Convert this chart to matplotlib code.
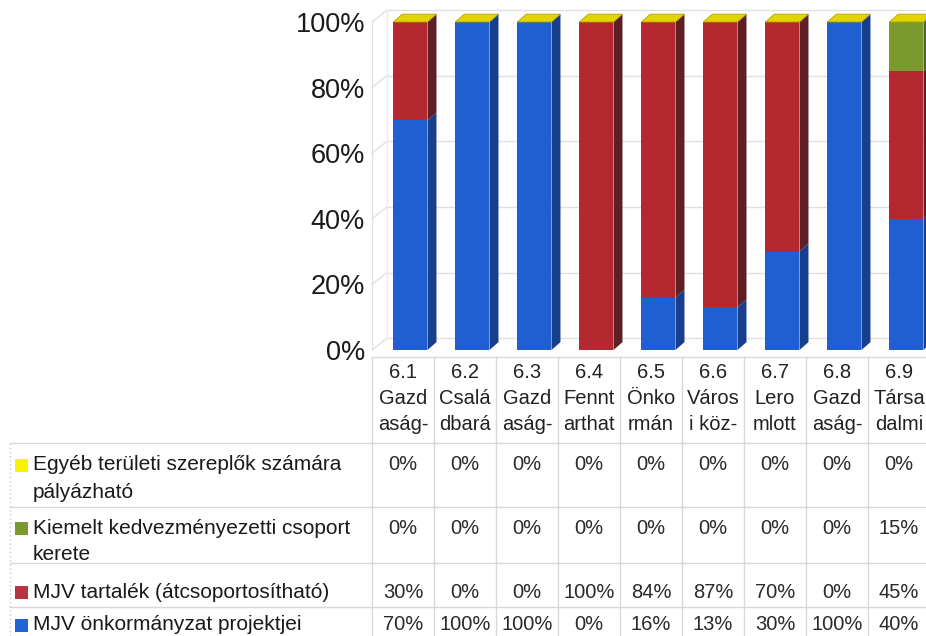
import matplotlib
matplotlib.use("Agg")
import matplotlib.pyplot as plt
import matplotlib.transforms as mtransforms
from matplotlib.patches import Polygon, Rectangle
import numpy as np

plt.rcParams['font.family'] = ['Liberation Sans', 'DejaVu Sans']

# categories (shown truncated, as in the data table header)
categories = ["6.1\nGazd\naság-", "6.2\nCsalá\ndbará", "6.3\nGazd\naság-",
              "6.4\nFennt\narthat", "6.5\nÖnko\nrmán", "6.6\nVáros\ni köz-",
              "6.7\nLero\nmlott", "6.8\nGazd\naság-", "6.9\nTársa\ndalmi"]

# series values in percent (stack order bottom -> top)
onkormanyzat = [70, 100, 100, 0, 16, 13, 30, 100, 40]
tartalek = [30, 0, 0, 100, 84, 87, 70, 0, 45]
kiemelt = [0, 0, 0, 0, 0, 0, 0, 0, 15]
egyeb = [0, 0, 0, 0, 0, 0, 0, 0, 0]

series_names = ["MJV önkormányzat projektjei", "MJV tartalék (átcsoportosítható)",
                "Kiemelt kedvezményezetti csoport\nkerete",
                "Egyéb területi szereplők számára\npályázható"]
series_values = [onkormanyzat, tartalek, kiemelt, egyeb]
front_colors = ["#1f5fd2", "#b5282f", "#7a9a30", "#f2ee00"]
side_colors = ["#173f8e", "#5e1f25", "#4f6620", "#b8a800"]
legend_colors = ["#2363d8", "#b93240", "#7a9a30", "#f8f400"]

ytick_vals = [0, 20, 40, 60, 80, 100]

W, H = 926, 636
fig = plt.figure(figsize=(W / 100, H / 100), dpi=100)
fig.patch.set_facecolor("white")

# pixel-space axes for the data table
tab = fig.add_axes([0, 0, 1, 1])
tab.set_xlim(0, W)
tab.set_ylim(H, 0)
tab.axis("off")

# bar axes: 0% at y=350px, 100% at y=22px, one category = 62px
col_px = 62
ax = fig.add_axes([372 / W, (H - 350) / H, (W - 372) / W, (350 - 22) / H])
ax.patch.set_visible(False)
x = np.arange(len(categories))
xmax = (W - 372) / col_px - 0.5
ax.set_xlim(-0.5, xmax)
ax.set_ylim(0, 100)
for s in ax.spines.values():
    s.set_visible(False)
ax.set_xticks([])
ax.set_yticks(ytick_vals)
ax.set_yticklabels([f"{v}%" for v in ytick_vals], fontsize=19.5, color="#1a1a1a")
ax.tick_params(axis="y", length=0, pad=5)

grid_col = "#e0e0e0"
# 3D walls: back wall gridlines shifted up/right
wx, wy = 0.24, 3.6
for v in ytick_vals:
    ax.plot([-0.5, -0.5 + wx], [v, v + wy], color=grid_col, lw=1, zorder=1, clip_on=False)
    ax.plot([-0.5 + wx, xmax], [v + wy, v + wy], color=grid_col, lw=1, zorder=1, clip_on=False)
ax.plot([-0.5, -0.5], [0, 100], color=grid_col, lw=1, zorder=1)
ax.plot([-0.5 + wx, -0.5 + wx], [wy, 100 + wy], color="#ececec", lw=1, zorder=1, clip_on=False)

# 3D bars
bw, off = 0.55, 0.12
dx, dy = 0.145, 2.4
bottoms = np.zeros(len(categories))
for vals, fc, sc in zip(series_values, front_colors, side_colors):
    vals = np.array(vals, dtype=float)
    ax.bar(x + off, vals, width=bw, bottom=bottoms, color=fc, zorder=3, linewidth=0)
    for i in range(len(x)):
        if vals[i] <= 0:
            continue
        x1 = x[i] + off + bw / 2
        b, t = bottoms[i], bottoms[i] + vals[i]
        ax.add_patch(Polygon([(x1, b), (x1 + dx, b + dy), (x1 + dx, t + dy), (x1, t)],
                             closed=True, facecolor=sc, edgecolor="none", zorder=3, clip_on=False))
    bottoms += vals

# top faces take the colour of the topmost series
for i in range(len(x)):
    x0 = x[i] + off - bw / 2
    x1 = x[i] + off + bw / 2
    t = bottoms[i]
    ax.add_patch(Polygon([(x0, t), (x1, t), (x1 + dx, t + dy), (x0 + dx, t + dy)],
                         closed=True, facecolor="#e2d400", edgecolor="#b0a200", lw=0.6,
                         zorder=4, clip_on=False))

# data table
bt = mtransforms.blended_transform_factory(ax.transData, tab.transData)
line_col = "#d8d8d8"
tab_fs = 14.5
tab.plot([372, W], [357, 357], color=line_col, lw=1)
for yy in [443, 507, 563, 607]:
    tab.plot([10, W], [yy, yy], color=line_col, lw=1)
tab.plot([372, 372], [357, H], color=line_col, lw=1)
tab.plot([10, 10], [443, H], color="#c8c8c8", lw=1, ls=(0, (1, 2)))
for i in range(len(x)):
    tab.plot([x[i] + 0.5, x[i] + 0.5], [357, H], color=line_col, lw=1, transform=bt)

# header: category labels
header_y = [372, 398, 425]
for i, cat in enumerate(categories):
    for yy, part in zip(header_y, cat.split("\n")):
        tab.text(x[i], yy, part, transform=bt, ha="center", va="center",
                 fontsize=tab_fs, color="#222222")

# rows: legend key, series name, values
row_y = [465, 528, 592, 625]
table_rows = [3, 2, 1, 0]
for yy, si in zip(row_y, table_rows):
    tab.add_patch(Rectangle((15, yy - 6.5), 13, 13, facecolor=legend_colors[si], edgecolor="none"))
    for k, part in enumerate(series_names[si].split("\n")):
        tab.text(33, yy + k * 27, part, ha="left", va="center", fontsize=15, color="#1a1a1a")
    for i, v in enumerate(series_values[si]):
        tab.text(x[i], yy, f"{v}%", transform=bt, ha="center", va="center",
                 fontsize=tab_fs, color="#2a2a2a")

fig.savefig("out.png", dpi=100, facecolor="white")
